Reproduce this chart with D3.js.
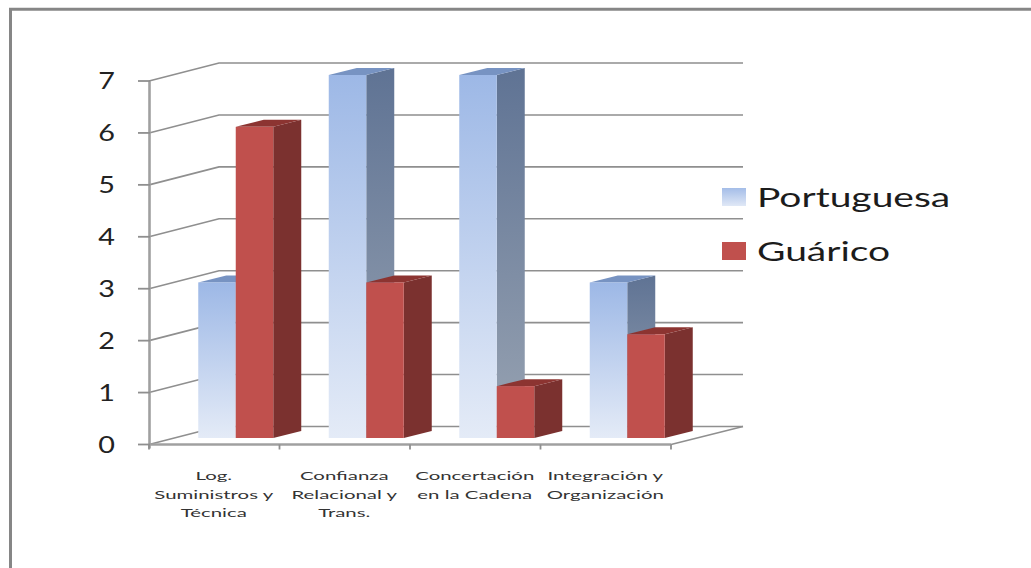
<!DOCTYPE html>
<html><head><meta charset="utf-8">
<script src="https://cdn.jsdelivr.net/npm/d3@7/dist/d3.min.js"></script>
<style>html,body{margin:0;background:#fff}svg{display:block}</style>
</head><body><svg id="c" width="1031" height="568"></svg>
<script>
const categories = [["Log.","Suministros y","Técnica"],["Confianza","Relacional y","Trans."],["Concertación","en la Cadena"],["Integración y","Organización"]];
const seriesNames = ["Portuguesa","Guárico"];
const portuguesa = [3,7,7,3];
const guarico = [6,3,1,2];
const yTicks = [0,1,2,3,4,5,6,7];

const svg = d3.select("#c");
const defs = svg.append("defs");
const grad = (id, stops) => {
  const g = defs.append("linearGradient").attr("id",id).attr("x1",0).attr("x2",0).attr("y1",0).attr("y2",1);
  stops.forEach(([o,c]) => g.append("stop").attr("offset",o).attr("stop-color",c));
};
grad("blueFront",[[0,"#9db8e6"],[1,"#e4ebf7"]]);
grad("blueSide",[[0,"#5f7394"],[1,"#98a3b2"]]);
grad("legendBlue",[[0,"#a4bde8"],[1,"#e0e8f6"]]);

// Chart frame: only the top and left edges are drawn
svg.append("path").attr("fill","none").attr("stroke","#868686").attr("stroke-width",3)
  .attr("d",d3.line()([[10.5,568],[10.5,9.2],[1031,9.2]]));

const root = svg.append("g");
const y = d3.scaleLinear().domain([0,7]).range([444.5,81]);
const band = d3.scaleBand().domain(d3.range(categories.length)).range([149,671]);
const depth = {x:70,y:-18};
const barDepth = {x:28,y:-7};
const barY = d3.scaleLinear().domain([0,7]).range([438,75]);
const gridColor = "#8f8f8f";
const wideFont = "Lato";

// Text is drawn horizontally stretched about its anchor point
function wideText(x, yPos, str, size, stretch, anchor, fill) {
  root.append("text").attr("transform",`translate(${x},${yPos}) scale(${stretch},1)`)
    .attr("text-anchor",anchor).attr("font-family",wideFont).attr("font-size",size).attr("fill",fill).text(str);
}

// Back wall gridlines with their receding wall and floor edges
yTicks.forEach(t => {
  root.append("path").attr("fill","none").attr("stroke",gridColor).attr("stroke-width",1.6)
    .attr("d",d3.line()([[band.range()[0],y(t)],[band.range()[0]+depth.x,y(t)+depth.y],[743,y(t)+depth.y]]));
});
root.append("path").attr("fill","none").attr("stroke",gridColor).attr("stroke-width",1.6)
  .attr("d",d3.line()([[band.range()[1],y(0)],[743,y(0)+depth.y]]));

// Front axes
root.append("path").attr("fill","none").attr("stroke","#a0a0a0").attr("stroke-width",2.6)
  .attr("d",d3.line()([[149.5,y(7)],[149.5,y(0)+4]]));
root.append("path").attr("fill","none").attr("stroke","#a0a0a0").attr("stroke-width",2.4)
  .attr("d",d3.line()([[149,y(0)],[band.range()[1],y(0)]]));
yTicks.forEach(t => root.append("line").attr("x1",138).attr("x2",150).attr("y1",y(t)).attr("y2",y(t))
  .attr("stroke","#8f8f8f").attr("stroke-width",1.8));
d3.range(categories.length+1).forEach(i => {
  const x = i<categories.length ? band(i) : band.range()[1];
  root.append("line").attr("x1",x).attr("x2",x).attr("y1",y(0)).attr("y2",y(0)+5)
    .attr("stroke","#8f8f8f").attr("stroke-width",1.8);
});

// Three-sided bars
function bar(x, w, v, front, top, side) {
  const yt = barY(v), yb = barY(0), d = barDepth;
  const g = root.append("g");
  g.append("path").attr("fill",side).attr("d",d3.line()([[x+w,yt],[x+w+d.x,yt+d.y],[x+w+d.x,yb+d.y],[x+w,yb]])+"Z");
  g.append("path").attr("fill",top).attr("d",d3.line()([[x,yt],[x+d.x,yt+d.y],[x+w+d.x,yt+d.y],[x+w,yt]])+"Z");
  g.append("rect").attr("x",x).attr("y",yt).attr("width",w).attr("height",yb-yt).attr("fill",front);
}
const barW = 37.5;
categories.forEach((c,i) => {
  const cx = band(i)+band.bandwidth()/2 + 21.5;
  bar(cx-barW, barW, portuguesa[i], "url(#blueFront)", "#7793c2", "url(#blueSide)");
  bar(cx, barW, guarico[i], "#c0504d", "#8c3431", "#7b312f");
});

// Axis labels
yTicks.forEach(t => wideText(106.5, y(t)+8, t, 23, 1.25, "middle", "#222"));
categories.forEach((lines,i) => {
  const cx = band(i)+band.bandwidth()/2 - 0.5;
  lines.forEach((s,j) => wideText(cx, 480+j*18.5, s, 12, 1.7, "middle", "#333"));
});

// Legend
const legendFill = ["url(#legendBlue)","#c0504d"];
seriesNames.forEach((s,i) => {
  const ly = 197 + i*54;
  root.append("rect").attr("x",722).attr("y",ly-9).attr("width",24).attr("height",18).attr("fill",legendFill[i]);
  wideText(757, ly+10, s, 26, 1.5, "start", "#1c1c1c");
});
</script></body></html>
